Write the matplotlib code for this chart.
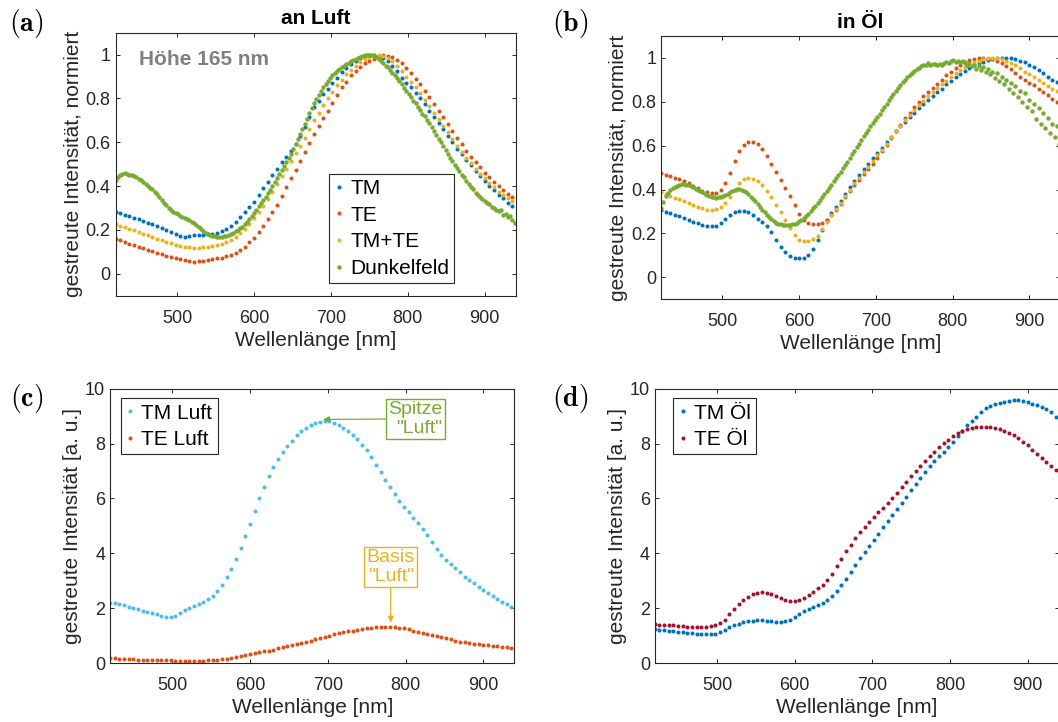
import numpy as np
import matplotlib
matplotlib.use("Agg")
import matplotlib.pyplot as plt
from matplotlib.ticker import FuncFormatter

# ---------------- data ----------------
wl_pol = np.arange(420, 940, 6)    # polarised measurements (nm)
wl_df = np.arange(420, 940, 3)     # dark-field measurements (nm)

# (a) an Luft, normalised
tm_luft_norm = [
    .284, .277, .270, .263, .256, .248, .240, .232, .225, .217,
    .209, .200, .190, .180, .171, .169, .172, .175, .177, .178,
    .180, .183, .188, .196, .206, .220, .238, .258, .280, .303,
    .326, .360, .390, .420, .450, .480, .510, .535, .560, .590,
    .630, .670, .715, .760, .790, .820, .845, .870, .895, .920,
    .940, .955, .970, .985, .995, 1.0, 1.0, .995, .985, .970,
    .950, .925, .895, .870, .850, .825, .800, .775, .745, .715,
    .690, .660, .630, .600, .570, .545, .520, .495, .470, .445,
    .425, .400, .380, .360, .345, .325, .310]
te_luft_norm = [
    .159, .152, .145, .138, .131, .124, .117, .110, .103, .096,
    .090, .083, .077, .071, .066, .061, .058, .056, .057, .059,
    .062, .066, .070, .074, .079, .086, .095, .108, .124, .143,
    .165, .190, .220, .250, .280, .315, .355, .395, .435, .475,
    .515, .555, .595, .640, .675, .710, .745, .780, .815, .850,
    .875, .905, .925, .945, .960, .970, .980, .990, 1.0, .995,
    .990, .975, .960, .940, .915, .890, .865, .835, .805, .775,
    .745, .715, .685, .650, .620, .590, .560, .535, .510, .485,
    .460, .440, .420, .400, .380, .365, .350]
tmte_luft_norm = [
    .228, .220, .212, .205, .198, .190, .182, .175, .168, .160,
    .153, .146, .139, .132, .127, .123, .120, .119, .119, .120,
    .122, .125, .130, .136, .144, .155, .168, .185, .205, .228,
    .255, .280, .310, .340, .375, .410, .445, .480, .515, .550,
    .585, .620, .660, .700, .735, .770, .800, .830, .860, .885,
    .910, .930, .950, .965, .980, .990, .995, 1.0, .995, .985,
    .970, .950, .925, .900, .875, .850, .825, .795, .765, .735,
    .705, .675, .645, .615, .585, .555, .530, .505, .480, .455,
    .435, .415, .395, .375, .360, .345, .330]
df_luft_norm = [
    .428, .440, .450, .456, .458, .457, .453, .449, .446, .441,
    .434, .426, .418, .409, .400, .393, .385, .374, .362, .350,
    .338, .325, .312, .300, .291, .283, .277, .271, .265, .261,
    .256, .250, .245, .238, .230, .222, .212, .203, .195, .188,
    .182, .177, .174, .171, .170, .169, .170, .171, .173, .176,
    .180, .186, .193, .200, .207, .215, .226, .238, .251, .264,
    .277, .292, .307, .322, .337, .352, .367, .382, .400, .418,
    .436, .454, .472, .490, .508, .528, .548, .570, .592, .614,
    .637, .660, .684, .708, .732, .755, .777, .798, .817, .835,
    .852, .867, .881, .894, .905, .916, .925, .934, .942, .950,
    .957, .963, .969, .975, .980, .985, .989, .993, .996, .998,
    .999, .997, .994, .989, .982, .973, .962, .950, .942, .932,
    .918, .905, .892, .878, .866, .848, .836, .822, .808, .790,
    .778, .762, .748, .730, .718, .700, .687, .668, .652, .634,
    .616, .602, .582, .566, .548, .530, .516, .498, .484, .468,
    .450, .440, .422, .410, .398, .386, .370, .360, .352, .340,
    .334, .322, .318, .305, .300, .292, .285, .290, .268, .275,
    .258, .262, .245, .230]

# (b) in Öl, normalised
tm_oel_norm = [
    .307, .300, .293, .286, .279, .271, .262, .254, .246, .240,
    .236, .234, .236, .246, .265, .284, .297, .303, .303, .297,
    .285, .268, .252, .232, .205, .172, .140, .114, .098, .089,
    .086, .087, .100, .128, .170, .215, .260, .295, .322, .350,
    .382, .410, .440, .467, .493, .518, .543, .567, .590, .615,
    .640, .665, .690, .710, .730, .750, .770, .790, .810, .828,
    .845, .860, .880, .895, .912, .928, .942, .955, .966, .975,
    .983, .990, .995, .998, 1.0, 1.0, .998, .995, .988, .980,
    .970, .960, .945, .930, .915, .900, .890]
te_oel_norm = [
    .476, .468, .460, .453, .446, .437, .428, .416, .405, .395,
    .388, .384, .386, .400, .430, .475, .530, .575, .605, .618,
    .617, .607, .585, .552, .515, .478, .442, .405, .370, .330,
    .290, .260, .247, .243, .243, .248, .261, .283, .308, .336,
    .365, .395, .420, .445, .470, .492, .518, .545, .575, .605,
    .635, .665, .695, .725, .750, .775, .800, .825, .845, .865,
    .880, .900, .920, .936, .952, .967, .980, .990, .995, .998,
    .998, .997, .993, .986, .975, .962, .948, .932, .915, .900,
    .887, .876, .860, .845, .830, .815, .800]
tmte_oel_norm = [
    .390, .381, .372, .363, .355, .347, .338, .330, .322, .315,
    .309, .307, .311, .322, .340, .365, .400, .432, .448, .451,
    .447, .438, .420, .395, .365, .330, .297, .262, .225, .195,
    .172, .166, .167, .173, .190, .220, .253, .285, .313, .340,
    .370, .400, .428, .455, .480, .505, .530, .556, .582, .610,
    .638, .665, .690, .715, .740, .762, .785, .805, .825, .845,
    .865, .880, .897, .915, .930, .945, .958, .970, .980, .988,
    .994, .998, 1.0, 1.0, .995, .988, .978, .966, .952, .938,
    .925, .912, .898, .885, .872, .860, .850]
df_oel_norm = [
    .314, .345, .370, .385, .398, .407, .413, .418, .422, .424,
    .424, .422, .419, .415, .410, .404, .398, .392, .387, .381,
    .375, .370, .366, .364, .363, .364, .366, .370, .375, .382,
    .389, .394, .398, .401, .401, .399, .394, .387, .378, .368,
    .357, .346, .334, .321, .309, .298, .286, .275, .265, .257,
    .250, .245, .241, .238, .237, .237, .238, .241, .245, .250,
    .256, .263, .272, .281, .291, .302, .314, .327, .340, .353,
    .367, .381, .395, .409, .423, .437, .452, .467, .482, .497,
    .512, .528, .545, .561, .578, .594, .610, .626, .642, .658,
    .673, .688, .703, .717, .731, .746, .761, .777, .792, .807,
    .822, .836, .850, .864, .877, .890, .901, .912, .922, .931,
    .940, .948, .955, .961, .966, .970, .975, .970, .974, .971,
    .968, .972, .970, .975, .980, .978, .985, .990, .983, .986,
    .980, .984, .975, .970, .976, .962, .968, .950, .962, .945,
    .958, .935, .948, .925, .938, .910, .930, .895, .915, .880,
    .900, .860, .888, .840, .870, .822, .850, .800, .838, .775,
    .810, .760, .790, .720, .770, .700, .748, .680, .725, .660,
    .700, .640, .690, .610]

# (c) an Luft, absolute [a. u.]
tm_luft_abs = [
    2.20, 2.18, 2.15, 2.10, 2.05, 2.00, 1.96, 1.91, 1.86, 1.82,
    1.78, 1.73, 1.69, 1.67, 1.71, 1.82, 1.93, 2.02, 2.09, 2.16,
    2.22, 2.32, 2.45, 2.63, 2.86, 3.14, 3.44, 3.80, 4.20, 4.62,
    5.08, 5.55, 6.00, 6.43, 6.82, 7.15, 7.45, 7.70, 7.90, 8.10,
    8.30, 8.45, 8.57, 8.67, 8.75, 8.80, 8.84, 8.82, 8.75, 8.66,
    8.55, 8.45, 8.32, 8.15, 7.95, 7.75, 7.50, 7.22, 6.95, 6.68,
    6.40, 6.15, 5.92, 5.70, 5.50, 5.30, 5.10, 4.90, 4.65, 4.40,
    4.17, 3.95, 3.75, 3.60, 3.45, 3.30, 3.15, 3.02, 2.90, 2.78,
    2.66, 2.55, 2.44, 2.33, 2.24, 2.14, 2.05]
te_luft_abs = [
    .19, .17, .16, .15, .14, .13, .12, .115, .11, .105,
    .10, .10, .10, .095, .09, .085, .08, .075, .08, .085,
    .09, .10, .11, .125, .14, .16, .19, .22, .25, .29,
    .32, .36, .39, .42, .45, .49, .53, .57, .61, .65,
    .68, .72, .77, .82, .86, .91, .96, 1.00, 1.04, 1.08,
    1.12, 1.15, 1.18, 1.21, 1.24, 1.27, 1.29, 1.31, 1.32, 1.33,
    1.33, 1.31, 1.29, 1.27, 1.23, 1.18, 1.14, 1.10, 1.06, 1.02,
    .98, .94, .90, .86, .82, .78, .75, .73, .71, .69,
    .67, .65, .63, .61, .59, .57, .55]

# (d) in Öl, absolute [a. u.]
tm_oel_abs = [
    1.23, 1.21, 1.19, 1.17, 1.16, 1.14, 1.12, 1.10, 1.08, 1.06,
    1.05, 1.04, 1.04, 1.07, 1.13, 1.22, 1.30, 1.37, 1.43, 1.48,
    1.52, 1.54, 1.55, 1.55, 1.54, 1.52, 1.50, 1.50, 1.52, 1.58,
    1.67, 1.78, 1.88, 1.97, 2.05, 2.12, 2.19, 2.28, 2.43, 2.62,
    2.83, 3.05, 3.30, 3.57, 3.83, 4.05, 4.28, 4.50, 4.72, 4.94,
    5.16, 5.38, 5.61, 5.84, 6.06, 6.29, 6.51, 6.74, 6.97, 7.17,
    7.37, 7.55, 7.71, 7.88, 8.07, 8.27, 8.46, 8.66, 8.83, 8.98,
    9.14, 9.29, 9.38, 9.44, 9.48, 9.52, 9.55, 9.57, 9.57, 9.55,
    9.50, 9.46, 9.42, 9.35, 9.27, 9.16, 8.96]
te_oel_abs = [
    1.41, 1.40, 1.39, 1.38, 1.37, 1.36, 1.34, 1.33, 1.32, 1.32,
    1.32, 1.33, 1.34, 1.38, 1.45, 1.57, 1.78, 1.98, 2.16, 2.30,
    2.42, 2.50, 2.56, 2.58, 2.57, 2.52, 2.44, 2.36, 2.30, 2.27,
    2.27, 2.30, 2.38, 2.48, 2.60, 2.72, 2.85, 3.02, 3.26, 3.52,
    3.80, 4.07, 4.32, 4.56, 4.78, 4.97, 5.15, 5.32, 5.49, 5.66,
    5.83, 6.02, 6.21, 6.40, 6.60, 6.80, 6.99, 7.18, 7.36, 7.53,
    7.70, 7.86, 8.01, 8.14, 8.27, 8.38, 8.46, 8.52, 8.57, 8.60,
    8.62, 8.61, 8.60, 8.57, 8.52, 8.47, 8.40, 8.30, 8.19, 8.07,
    7.93, 7.77, 7.62, 7.48, 7.34, 7.18, 7.02]

labels_a = ["TM", "TE", "TM+TE", "Dunkelfeld"]
labels_c = ["TM Luft", "TE Luft"]
labels_d = ["TM Öl", "TE Öl"]
xticks = [500, 600, 700, 800, 900]
yticks_norm = [0, 0.2, 0.4, 0.6, 0.8, 1]
yticks_abs = [0, 2, 4, 6, 8, 10]

# ---------------- style ----------------
C_TM, C_TE, C_TMTE, C_DF = "#0072BD", "#D95319", "#EDB120", "#77AC30"
C_TML, C_TEO = "#4DBEEE", "#A2142F"
AX = "#262626"

plt.rcParams["font.family"] = ["Liberation Sans", "DejaVu Sans"]

W, H = 1058, 722
fig = plt.figure(figsize=(W / 100, H / 100), dpi=100)


def ax_at(l, r, t, b):
    return fig.add_axes([l / W, 1 - b / H, (r - l) / W, (b - t) / H])


def dots(ax, x, y, color, label, ms=2.9):
    n = min(len(x), len(y))
    return ax.plot(x[:n], np.asarray(y)[:n], ls="none", marker="o", ms=ms,
                   mew=0, color=color, label=label)[0]


def style(ax, ylim, yticks, ylabel):
    ax.set_xlim(420, 940)
    ax.set_ylim(*ylim)
    ax.set_xticks(xticks)
    ax.set_yticks(yticks)
    ax.yaxis.set_major_formatter(FuncFormatter(lambda v, p: f"{v:g}"))
    ax.tick_params(direction="in", length=3, width=0.7, top=True, right=True,
                   labelsize=13, colors=AX)
    ax.tick_params(axis="x", pad=10)
    ax.tick_params(axis="y", pad=3.5)
    for s in ax.spines.values():
        s.set_color(AX)
        s.set_linewidth(0.8)
    ax.set_xlabel("Wellenlänge [nm]", fontsize=15, color=AX, labelpad=3)
    ax.set_ylabel(ylabel, fontsize=15, color=AX, labelpad=2)


def legend(ax, loc, anchor):
    lg = ax.legend(loc=loc, bbox_to_anchor=anchor, fontsize=15, frameon=True,
                   fancybox=False, edgecolor=AX, framealpha=1,
                   handlelength=0.4, handletextpad=0.35, borderpad=0.25,
                   labelspacing=0.37, borderaxespad=0)
    lg.get_frame().set_linewidth(0.8)
    return lg


def panel_label(x, y, s):
    fig.text(x / W, 1 - y / H, r"$\mathbf{(" + s + ")}$", fontsize=20,
             ha="left", va="center", math_fontfamily="cm")


# (a)
axa = ax_at(115.5, 515.5, 32.7, 295.7)
dots(axa, wl_pol, tm_luft_norm, C_TM, labels_a[0])
dots(axa, wl_pol, te_luft_norm, C_TE, labels_a[1])
dots(axa, wl_pol, tmte_luft_norm, C_TMTE, labels_a[2])
dots(axa, wl_df, df_luft_norm, C_DF, labels_a[3], ms=3.2)
style(axa, (-0.1, 1.1), yticks_norm, "gestreute Intensität, normiert")
axa.set_title("an Luft", fontsize=15, fontweight="bold", color="black", pad=6)
axa.text(451, 0.976, "Höhe 165 nm", fontsize=15, fontweight="bold",
         color="#808080", ha="left", va="center")
legend(axa, "lower right", (0.847, 0.047))

# (b)
axb = ax_at(661, 1060, 36, 299.3)
dots(axb, wl_pol, tm_oel_norm, C_TM, labels_a[0])
dots(axb, wl_pol, te_oel_norm, C_TE, labels_a[1])
dots(axb, wl_pol, tmte_oel_norm, C_TMTE, labels_a[2])
dots(axb, wl_df, df_oel_norm, C_DF, labels_a[3], ms=3.2)
style(axb, (-0.1, 1.1), yticks_norm, "gestreute Intensität, normiert")
axb.set_title("in Öl", fontsize=15, fontweight="bold", color="black", pad=6)

# (c)
axc = ax_at(110, 514.4, 388.7, 663)
dots(axc, wl_pol, tm_luft_abs, C_TML, labels_c[0])
dots(axc, wl_pol, te_luft_abs, C_TE, labels_c[1])
style(axc, (0, 10), yticks_abs, "gestreute Intensität [a. u.]")
legend(axc, "upper left", (0.026, 0.965))
axc.annotate('Spitze\n"Luft"', xy=(694, 8.88), xytext=(812.6, 8.9),
             ha="center", va="center", multialignment="right",
             color=C_DF, fontsize=14, linespacing=1.1,
             bbox=dict(boxstyle="square,pad=0.12", fc="white", ec=C_DF, lw=1),
             arrowprops=dict(arrowstyle="-|>", color=C_DF, lw=0.9,
                             shrinkA=0, shrinkB=0, mutation_scale=9))
axc.annotate('Basis\n"Luft"', xy=(781, 1.47), xytext=(781, 3.5),
             ha="center", va="center", multialignment="center",
             color=C_TMTE, fontsize=14, linespacing=1.1,
             bbox=dict(boxstyle="square,pad=0.12", fc="white", ec=C_TMTE, lw=1),
             arrowprops=dict(arrowstyle="-|>", color=C_TMTE, lw=0.9,
                             shrinkA=0, shrinkB=0, mutation_scale=9))

# (d)
axd = ax_at(654.8, 1058.7, 388.7, 663)
dots(axd, wl_pol, tm_oel_abs, C_TM, labels_d[0])
dots(axd, wl_pol, te_oel_abs, C_TEO, labels_d[1])
style(axd, (0, 10), yticks_abs, "gestreute Intensität [a. u.]")
legend(axd, "upper left", (0.046, 0.965))

panel_label(9, 23.5, "a")
panel_label(552, 23.5, "b")
panel_label(10.5, 398.5, "c")
panel_label(552, 398.5, "d")

fig.savefig("out.png", dpi=100)
